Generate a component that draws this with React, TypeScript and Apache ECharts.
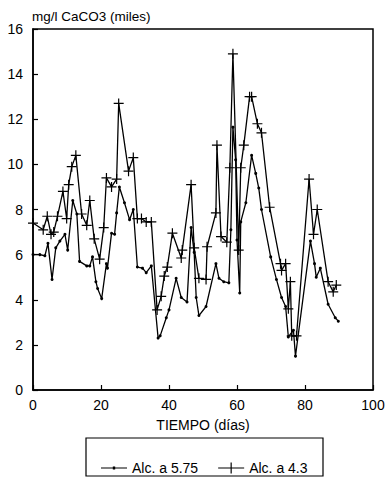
import React, { useEffect, useRef } from "react";
import * as echarts from "echarts";

const s1Days = [0, 2, 3.5, 4.4, 5.6, 6.7, 7.9, 9.4, 10.2, 11.7, 12.9, 13.7, 15.8, 16.7, 17.5, 18.5, 19.0, 20.2, 21.6, 21.9, 23.1, 24.0, 24.6, 25.4, 26.9, 28.4, 29.5, 30.7, 32.2, 33.3, 34.8, 36.8, 37.4, 39.2, 40.0, 42.1, 43.6, 45.3, 46.5, 47.4, 48.0, 48.8, 50.9, 53.8, 54.7, 56.1, 57.6, 58.2, 58.8, 59.6, 60.0, 60.8, 61.1, 62.6, 64.3, 65.5, 66.4, 67.2, 69.9, 71.6, 73.1, 74.3, 75.1, 76.6, 77.2, 81.6, 82.8, 83.3, 84.5, 86.8, 88.9, 89.8];
const s1Values = [6.0, 6.0, 5.95, 6.5, 4.9, 6.3, 6.6, 6.9, 6.2, 8.4, 7.8, 5.7, 5.5, 5.5, 5.9, 4.8, 4.5, 4.05, 5.6, 5.4, 6.95, 6.9, 7.85, 9.0, 8.3, 7.55, 8.0, 5.45, 5.4, 5.2, 5.5, 2.3, 2.4, 3.2, 3.55, 4.95, 4.1, 3.9, 7.2, 6.1, 4.1, 3.3, 3.7, 5.6, 4.95, 4.8, 4.75, 7.1, 11.65, 10.2, 6.65, 4.3, 7.45, 8.3, 10.4, 9.6, 8.95, 8.0, 5.9, 4.9, 4.1, 3.7, 2.35, 2.65, 1.5, 6.6, 5.6, 5.0, 5.4, 3.8, 3.2, 3.05];

const s2Days = [0, 3, 4.2, 5.3, 6.1, 7.2, 8.8, 9.9, 10.5, 11.4, 12.6, 14.3, 15.8, 16.7, 18.0, 19.6, 20.8, 21.6, 23.1, 24.6, 25.2, 28.1, 29.5, 30.7, 31.9, 33.3, 34.8, 36.5, 37.7, 38.6, 39.5, 41.0, 43.6, 43.9, 46.5, 47.4, 48.8, 50.9, 51.2, 53.8, 54.1, 55.3, 57.0, 57.9, 58.8, 60.5, 61.1, 62.0, 63.7, 64.3, 66.0, 67.2, 69.6, 72.8, 73.1, 74.3, 75.1, 75.7, 76.1, 77.5, 81.2, 82.5, 83.6, 86.8, 88.3, 89.2];
const s2Values = [7.4, 7.1, 7.7, 6.9, 7.0, 7.7, 8.8, 7.6, 9.1, 9.9, 10.4, 7.8, 7.3, 8.4, 6.7, 5.8, 7.2, 9.4, 9.0, 9.35, 12.7, 9.7, 10.3, 7.6, 7.6, 7.45, 7.45, 3.55, 4.15, 5.05, 5.45, 6.95, 5.85, 6.2, 9.1, 6.3, 4.95, 4.9, 6.35, 7.85, 10.85, 6.8, 6.55, 9.85, 14.9, 6.2, 9.85, 10.85, 13.0, 13.0, 11.8, 11.4, 8.1, 5.6, 5.3, 5.6, 3.6, 4.8, 2.4, 2.4, 9.35, 6.9, 8.0, 4.8, 4.35, 4.65];

const xTicks = { min: 0, max: 100, interval: 20 };
const yTicks = { min: 0, max: 16, interval: 2 };

const seriesNames = ["Alc. a 5.75", "Alc. a 4.3"];
const yTitle = "mg/l CaCO3 (miles)";
const xTitle = "TIEMPO (días)";

const PLUS = "path://M-0.12,-1H0.12V-0.12H1V0.12H0.12V1H-0.12V0.12H-1V-0.12H-0.12Z";
const ICON_DOT = "path://M0,4.45H24V5.55H0Z M10.9,3.7H13.1V6.3H10.9Z";
const ICON_PLUS = "path://M0,4.45H24V5.55H0Z M11.45,0H12.55V10H11.45Z";

export default function App() {
  const ref = useRef<HTMLDivElement>(null);
  useEffect(() => {
    document.body.style.margin = "0";
    const chart = echarts.init(ref.current!, null, { renderer: "svg" });
    const font = "Liberation Sans, Arial, sans-serif";
    const d1 = s1Days.map((d, i) => [d, s1Values[i]]);
    const d2 = s2Days.map((d, i) => [d, s2Values[i]]);
    chart.setOption({
      animation: false,
      backgroundColor: "#fff",
      textStyle: { fontFamily: font, color: "#000" },
      title: {
        text: yTitle,
        left: 27,
        top: 4,
        textStyle: { fontSize: 13.5, fontWeight: "normal", color: "#000", fontFamily: font },
      },
      grid: {
        left: 33,
        top: 29,
        right: 16,
        bottom: 88,
        show: true,
        borderColor: "#000",
        borderWidth: 1.5,
        backgroundColor: "transparent",
      },
      xAxis: {
        type: "value",
        min: xTicks.min,
        max: xTicks.max,
        interval: xTicks.interval,
        name: xTitle,
        nameLocation: "middle",
        nameGap: 28,
        nameTextStyle: { fontSize: 14, color: "#000", fontFamily: font },
        axisLine: { show: true, lineStyle: { color: "#000", width: 1.5 } },
        axisTick: { show: true, inside: true, length: 5, lineStyle: { color: "#000", width: 1.2 } },
        axisLabel: { fontSize: 14, color: "#000", margin: 8, fontFamily: font },
        splitLine: { show: false },
      },
      yAxis: {
        type: "value",
        min: yTicks.min,
        max: yTicks.max,
        interval: yTicks.interval,
        axisLine: { show: true, lineStyle: { color: "#000", width: 1.5 } },
        axisTick: { show: true, inside: true, length: 5, lineStyle: { color: "#000", width: 1.2 } },
        axisLabel: { fontSize: 14, color: "#000", margin: 10, fontFamily: font },
        splitLine: { show: false },
      },
      legend: {
        left: 96,
        top: 456,
        itemWidth: 26,
        itemHeight: 11,
        itemGap: 20,
        textStyle: { fontSize: 14, color: "#000", fontFamily: font },
        data: [
          { name: seriesNames[0], icon: ICON_DOT },
          { name: seriesNames[1], icon: ICON_PLUS },
        ],
      },
      graphic: [
        {
          type: "rect",
          shape: { x: 86, y: 438, width: 237, height: 38 },
          style: { fill: "none", stroke: "#000", lineWidth: 1.2 },
          silent: true,
        },
      ],
      series: [
        {
          name: seriesNames[0],
          type: "line",
          data: d1,
          symbol: "circle",
          symbolSize: 3,
          showSymbol: true,
          showAllSymbol: true,
          lineStyle: { color: "#000", width: 1.3 },
          itemStyle: { color: "#000" },
        },
        {
          name: seriesNames[1],
          type: "line",
          data: d2,
          symbol: PLUS,
          symbolSize: 10,
          showSymbol: true,
          showAllSymbol: true,
          lineStyle: { color: "#000", width: 1.3 },
          itemStyle: { color: "#000" },
        },
      ],
    });
    return () => chart.dispose();
  }, []);
  return <div ref={ref} style={{ width: 389, height: 478 }} />;
}
